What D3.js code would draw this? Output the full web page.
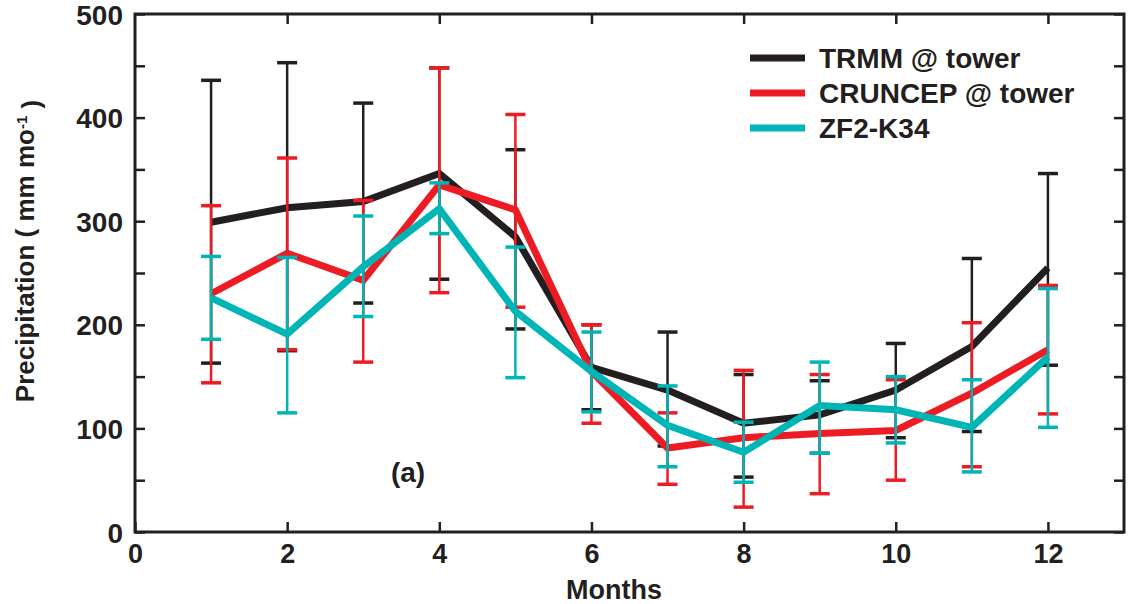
<!DOCTYPE html>
<html><head><meta charset="utf-8">
<script src="https://cdn.jsdelivr.net/npm/d3@7"></script>
<style>body{margin:0;background:#fff}svg{display:block}text{font-family:"Liberation Sans",Arial,sans-serif;font-weight:bold;fill:#231f20}</style>
</head><body><svg id="c" width="1132" height="604"></svg>
<script>
const months = [1,2,3,4,5,6,7,8,9,10,11,12];
const seriesNames = ["TRMM @ tower","CRUNCEP @ tower","ZF2-K34"];
const trmmMean = [299,313,319,346,285,159,137,105,113,137,179,255];
const trmmLow  = [163,175,221,244,196,118,83,53,76,91,97,161];
const trmmHigh = [436,453,414,448,369,200,193,152,146,182,264,346];
const cruMean  = [230,269,243,335,311,155,81,91,95,98,134,176];
const cruLow   = [144,176,164,231,217,105,46,24,37,50,63,114];
const cruHigh  = [315,361,320,448,403,200,115,156,152,147,202,238];
const zfMean   = [226,191,256,312,213,155,103,77,122,118,101,169];
const zfLow    = [186,115,208,288,149,116,63,48,76,86,58,101];
const zfHigh   = [266,265,305,337,275,193,141,106,164,150,147,235];
const xTicks = [0,2,4,6,8,10,12];
const yTicks = [0,100,200,300,400,500];
const yMinor = [50,150,250,350,450];

const colors = ["#231f20","#ed1c24","#00b5b5"];
const svg = d3.select("#c");
const L=135,R=1124,T=14,B=532;
const x = d3.scaleLinear().domain([0,13]).range([L,R]);
const y = d3.scaleLinear().domain([0,500]).range([B,T]);

const series = [
  {name:seriesNames[0],mean:trmmMean,low:trmmLow,high:trmmHigh,color:colors[0]},
  {name:seriesNames[1],mean:cruMean,low:cruLow,high:cruHigh,color:colors[1]},
  {name:seriesNames[2],mean:zfMean,low:zfLow,high:zfHigh,color:colors[2]}
];

const ink="#231f20";
const allY = yTicks.concat(yMinor);
svg.append("g").attr("transform",`translate(${L},0)`)
  .call(d3.axisLeft(y).tickValues(allY).tickSizeInner(-10).tickSizeOuter(0).tickFormat(d=>yTicks.includes(d)?d:""))
  .call(g=>{g.select(".domain").remove();g.selectAll("line").attr("stroke",ink).attr("stroke-width",2.5);
    g.selectAll("text").attr("x",-12).style("font-size","28px").style("font-family","Liberation Sans").style("font-weight","bold").attr("fill",ink).attr("dy","0.36em");});
svg.append("g").attr("transform",`translate(${R},0)`)
  .call(d3.axisRight(y).tickValues(allY).tickSizeInner(-10).tickSizeOuter(0).tickFormat(""))
  .call(g=>{g.select(".domain").remove();g.selectAll("line").attr("stroke",ink).attr("stroke-width",2.5);});
svg.append("g").attr("transform",`translate(0,${B})`)
  .call(d3.axisBottom(x).tickValues(xTicks).tickSizeInner(-10).tickSizeOuter(0))
  .call(g=>{g.select(".domain").remove();g.selectAll("line").attr("stroke",ink).attr("stroke-width",2.5);
    g.selectAll("text").attr("y",31).attr("dy","0").style("font-size","27px").style("font-family","Liberation Sans").style("font-weight","bold").attr("fill",ink);});
svg.append("g").attr("transform",`translate(0,${T})`)
  .call(d3.axisTop(x).tickValues(xTicks.filter(d=>d>0)).tickSizeInner(-10).tickSizeOuter(0).tickFormat(""))
  .call(g=>{g.select(".domain").remove();g.selectAll("line").attr("stroke",ink).attr("stroke-width",2.5);});
svg.append("rect").attr("x",L).attr("y",T).attr("width",R-L).attr("height",B-T)
  .attr("fill","none").attr("stroke",ink).attr("stroke-width",3);

const line = d3.line().x((d,i)=>x(months[i])).y(d=>y(d));
series.forEach(s=>{
  const g = svg.append("g");
  months.forEach((m,i)=>{
    g.append("line").attr("x1",x(m)).attr("x2",x(m)).attr("y1",y(s.low[i])).attr("y2",y(s.high[i]))
      .attr("stroke",s.color).attr("stroke-width",2.5);
    [s.low[i],s.high[i]].forEach(v=>{
      g.append("line").attr("x1",x(m)-10).attr("x2",x(m)+10).attr("y1",y(v)).attr("y2",y(v))
        .attr("stroke",s.color).attr("stroke-width",3.5);
    });
  });
  g.append("path").datum(s.mean).attr("d",line).attr("fill","none").attr("stroke",s.color)
    .attr("stroke-width",7).attr("stroke-linejoin","miter");
});

series.forEach((s,i)=>{
  const ly = 58 + i*35;
  svg.append("line").attr("x1",750).attr("x2",805).attr("y1",ly).attr("y2",ly).attr("stroke",s.color).attr("stroke-width",7);
  svg.append("text").attr("x",819).attr("y",ly).attr("dy","0.36em").style("font-size","28px").text(s.name);
});

svg.append("text").attr("x",408).attr("y",472).attr("dy","0.35em").attr("text-anchor","middle").style("font-size","28px").text("(a)");
svg.append("text").attr("x",614).attr("y",599).attr("text-anchor","middle").style("font-size","27px").text("Months");
const yl = svg.append("text").attr("transform",`translate(34,251) rotate(-90)`).attr("text-anchor","middle").style("font-size","26px");
yl.append("tspan").text("Precipitation ( mm mo");
yl.append("tspan").attr("dy","-0.5em").style("font-size","15px").text("-1");
yl.append("tspan").attr("dy","0.5em").text(" )");
</script></body></html>
